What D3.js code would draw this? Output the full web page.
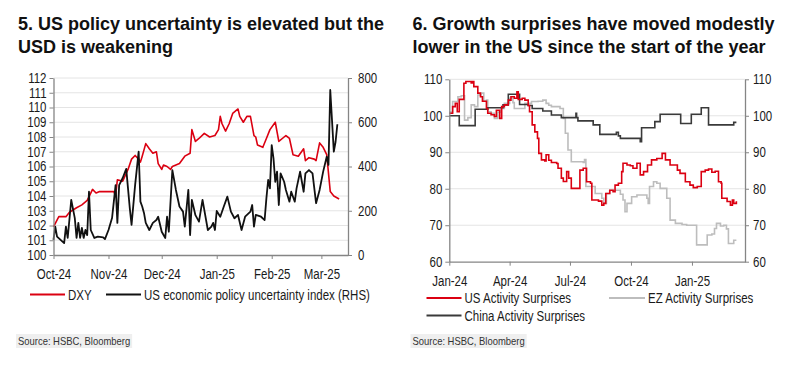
<!DOCTYPE html>
<html>
<head>
<meta charset="utf-8">
<script src="https://cdn.jsdelivr.net/npm/d3@7"></script>
<style>
  body { margin: 0; background: #fff; }
  svg { display: block; }
</style>
</head>
<body>
<svg id="chart" width="800" height="377"></svg>
<script>
// ---- Chart 5: DXY vs US economic policy uncertainty ----
var dxySeries = [
  ["2024-10-01",101.9],["2024-10-04",102.6],["2024-10-08",102.6],["2024-10-10",102.9],
  ["2024-10-14",103.2],["2024-10-17",103.4],["2024-10-20",103.7],["2024-10-22",104.2],
  ["2024-10-23",104.45],["2024-10-25",104.2],["2024-10-27",104.3],["2024-10-31",104.3],
  ["2024-11-04",104.3],["2024-11-05",104.0],["2024-11-06",105.1],["2024-11-09",105.0],
  ["2024-11-12",105.8],["2024-11-14",106.5],["2024-11-16",106.75],["2024-11-18",106.5],
  ["2024-11-19",106.3],["2024-11-20",106.7],["2024-11-22",107.55],["2024-11-24",107.2],
  ["2024-11-26",106.9],["2024-11-28",107.0],["2024-11-29",106.2],["2024-12-01",105.8],
  ["2024-12-02",106.1],["2024-12-04",106.0],["2024-12-06",105.8],["2024-12-07",106.0],
  ["2024-12-11",106.2],["2024-12-14",106.7],["2024-12-17",106.9],["2024-12-18",108.5],
  ["2024-12-20",107.7],["2024-12-22",107.9],["2024-12-25",108.25],["2024-12-28",108.0],
  ["2024-12-31",108.1],["2025-01-02",108.5],["2025-01-03",109.4],["2025-01-04",108.9],
  ["2025-01-06",108.4],["2025-01-08",108.9],["2025-01-10",109.6],["2025-01-13",109.9],
  ["2025-01-14",109.4],["2025-01-16",109.0],["2025-01-18",109.4],["2025-01-20",109.4],
  ["2025-01-22",108.1],["2025-01-23",108.0],["2025-01-24",107.45],["2025-01-27",107.3],
  ["2025-01-29",107.9],["2025-01-31",108.5],["2025-02-03",109.0],["2025-02-05",107.7],
  ["2025-02-08",108.0],["2025-02-09",108.1],["2025-02-11",107.9],["2025-02-13",106.8],
  ["2025-02-16",106.7],["2025-02-19",107.2],["2025-02-20",106.4],["2025-02-22",106.6],
  ["2025-02-25",106.5],["2025-02-26",106.4],["2025-02-28",107.6],["2025-03-02",107.3],
  ["2025-03-04",106.8],["2025-03-06",104.3],["2025-03-08",104.0],["2025-03-11",103.8]
];

var epuSeries = [
  ["2024-10-01",68],["2024-10-02",128],["2024-10-03",83],["2024-10-07",54],["2024-10-08",128],
  ["2024-10-09",77],["2024-10-11",249],["2024-10-13",167],["2024-10-14",77],["2024-10-15",145],
  ["2024-10-16",77],["2024-10-17",122],["2024-10-18",77],["2024-10-19",113],["2024-10-20",90],
  ["2024-10-21",286],["2024-10-22",113],["2024-10-24",77],["2024-10-26",83],["2024-10-29",80],
  ["2024-10-30",72],["2024-11-01",113],["2024-11-03",167],["2024-11-05",316],["2024-11-06",145],
  ["2024-11-07",316],["2024-11-09",348],["2024-11-11",389],["2024-11-13",212],["2024-11-14",136],
  ["2024-11-16",316],["2024-11-18",467],["2024-11-19",241],["2024-11-20",219],["2024-11-21",190],
  ["2024-11-22",145],["2024-11-24",113],["2024-11-26",145],["2024-11-28",158],["2024-11-29",173],
  ["2024-12-01",105],["2024-12-03",77],["2024-12-04",173],["2024-12-05",105],["2024-12-07",384],
  ["2024-12-09",294],["2024-12-11",219],["2024-12-13",196],["2024-12-14",128],["2024-12-16",294],
  ["2024-12-17",90],["2024-12-18",249],["2024-12-20",180],["2024-12-22",151],["2024-12-24",249],
  ["2024-12-27",113],["2024-12-29",128],["2024-12-30",145],["2024-12-31",113],["2025-01-01",199],
  ["2025-01-03",173],["2025-01-05",219],["2025-01-07",264],["2025-01-09",196],["2025-01-11",166],
  ["2025-01-13",181],["2025-01-15",113],["2025-01-17",173],["2025-01-20",196],["2025-01-21",226],
  ["2025-01-22",128],["2025-01-23",181],["2025-01-26",173],["2025-01-28",158],["2025-01-29",256],
  ["2025-01-30",339],["2025-01-31",301],["2025-02-01",497],["2025-02-02",437],["2025-02-03",331],
  ["2025-02-04",377],["2025-02-05",226],["2025-02-06",369],["2025-02-08",331],["2025-02-09",294],
  ["2025-02-11",241],["2025-02-12",286],["2025-02-14",241],["2025-02-15",301],["2025-02-17",377],
  ["2025-02-19",286],["2025-02-20",369],["2025-02-22",384],["2025-02-24",369],["2025-02-26",234],
  ["2025-02-28",294],["2025-03-02",377],["2025-03-04",444],["2025-03-05",407],["2025-03-06",746],
  ["2025-03-08",467],["2025-03-09",512],["2025-03-10",591]
];

var leftMonthTicks = ["2024-10-01","2024-11-01","2024-12-01","2025-01-01","2025-02-01","2025-03-01"];
var dxyTicks = [100,101,102,103,104,105,106,107,108,109,110,111,112];
var epuTicks = [0,200,400,600,800];

// ---- Chart 6: activity surprise indices ----
var usSeries = [
  ["2024-01-01",100.7],["2024-01-06",102.5],["2024-01-10",103.4],["2024-01-13",101.1],
  ["2024-01-16",104.5],["2024-01-23",108.9],["2024-01-26",109.4],["2024-02-03",109.0],
  ["2024-02-05",109.4],["2024-02-07",108.0],["2024-02-13",106.2],["2024-02-17",105.2],
  ["2024-02-20",104.0],["2024-02-26",102.0],["2024-02-28",100.7],["2024-03-04",100.3],
  ["2024-03-09",99.8],["2024-03-12",101.5],["2024-03-17",99.3],["2024-03-20",102.5],
  ["2024-03-24",103.0],["2024-03-30",104.3],["2024-04-03",105.2],["2024-04-08",104.8],
  ["2024-04-12",106.6],["2024-04-14",104.5],["2024-04-20",104.8],["2024-04-24",104.3],
  ["2024-04-29",102.8],["2024-05-01",101.1],["2024-05-05",97.5],["2024-05-09",95.6],
  ["2024-05-13",93.8],["2024-05-15",89.7],["2024-05-19",87.9],["2024-05-24",87.6],
  ["2024-05-26",89.3],["2024-05-30",87.8],["2024-06-03",87.2],["2024-06-11",86.9],
  ["2024-06-13",85.6],["2024-06-18",82.9],["2024-06-21",82.0],["2024-06-26",84.7],
  ["2024-06-29",82.9],["2024-07-03",80.1],["2024-07-13",80.1],["2024-07-16",85.1],
  ["2024-07-21",85.6],["2024-07-26",81.9],["2024-08-01",81.5],["2024-08-03",76.9],
  ["2024-08-13",76.6],["2024-08-18",75.5],["2024-08-21",76.0],["2024-08-24",78.7],
  ["2024-08-30",79.6],["2024-09-04",79.2],["2024-09-07",81.0],["2024-09-12",81.5],
  ["2024-09-17",84.7],["2024-09-19",87.0],["2024-09-25",86.5],["2024-09-30",86.3],
  ["2024-10-04",85.6],["2024-10-10",87.0],["2024-10-15",83.8],["2024-10-20",84.7],
  ["2024-10-26",86.5],["2024-11-01",87.9],["2024-11-09",88.3],["2024-11-17",89.7],
  ["2024-11-22",87.9],["2024-11-29",86.5],["2024-12-07",86.5],["2024-12-10",85.1],
  ["2024-12-14",84.2],["2024-12-22",81.9],["2024-12-29",81.0],["2025-01-03",80.3],
  ["2025-01-09",80.6],["2025-01-15",84.7],["2025-01-21",85.1],["2025-01-26",85.4],
  ["2025-01-31",84.5],["2025-02-05",84.8],["2025-02-10",81.9],["2025-02-14",81.5],
  ["2025-02-15",77.4],["2025-02-23",76.5],["2025-02-28",75.5],["2025-03-03",76.9],
  ["2025-03-05",76.0],["2025-03-09",76.6]
];

var ezSeries = [
  ["2024-01-01",101.0],["2024-01-06",103.9],["2024-01-14",105.2],["2024-01-19",105.5],
  ["2024-01-24",98.8],["2024-01-29",99.5],["2024-02-03",103.0],["2024-02-08",102.5],
  ["2024-02-13",105.7],["2024-02-18",106.2],["2024-02-22",104.0],["2024-02-26",104.3],
  ["2024-02-28",101.1],["2024-03-04",100.7],["2024-03-09",99.3],["2024-03-14",101.0],
  ["2024-03-19",102.0],["2024-03-24",103.4],["2024-04-01",104.8],["2024-04-06",103.6],
  ["2024-04-08",102.0],["2024-04-16",102.0],["2024-04-24",103.4],["2024-05-04",103.9],
  ["2024-05-14",104.0],["2024-05-21",104.3],["2024-05-26",103.4],["2024-05-30",102.9],
  ["2024-06-03",102.5],["2024-06-16",102.0],["2024-06-21",99.3],["2024-06-24",95.2],
  ["2024-06-28",90.6],["2024-07-03",87.4],["2024-07-21",87.2],["2024-07-23",88.0],
  ["2024-07-25",80.6],["2024-07-31",80.6],["2024-08-08",78.7],["2024-08-18",77.4],
  ["2024-08-21",76.0],["2024-08-25",78.7],["2024-08-30",79.6],["2024-09-12",79.6],
  ["2024-09-15",78.5],["2024-09-19",76.9],["2024-09-22",73.7],["2024-09-25",76.0],
  ["2024-10-02",77.8],["2024-10-10",78.3],["2024-10-25",77.4],["2024-10-27",76.0],
  ["2024-10-29",80.6],["2024-11-04",81.9],["2024-11-09",81.5],["2024-11-14",80.1],
  ["2024-11-24",77.4],["2024-11-29",71.4],["2024-12-07",70.5],["2024-12-17",70.2],
  ["2024-12-24",70.0],["2025-01-06",70.0],["2025-01-08",64.6],["2025-01-21",64.6],
  ["2025-01-24",67.3],["2025-01-31",67.6],["2025-02-04",69.1],["2025-02-07",70.5],
  ["2025-02-13",69.8],["2025-02-18",70.0],["2025-02-22",69.0],["2025-02-25",65.0],
  ["2025-03-03",65.0],["2025-03-05",65.9],["2025-03-09",65.9]
];

var chinaSeries = [
  ["2024-01-01",100.0],["2024-01-16",97.3],["2024-02-09",101.8],["2024-02-28",102.2],
  ["2024-03-22",103.0],["2024-03-30",105.9],["2024-04-16",103.1],["2024-04-29",102.8],
  ["2024-05-05",102.0],["2024-05-21",101.3],["2024-06-03",100.2],["2024-06-18",99.5],
  ["2024-07-10",100.7],["2024-07-11",99.5],["2024-07-13",98.6],["2024-08-05",97.5],
  ["2024-08-15",94.9],["2024-09-09",95.5],["2024-09-12",94.5],["2024-09-15",93.8],
  ["2024-10-15",92.9],["2024-10-17",96.7],["2024-11-06",98.4],["2024-11-14",100.4],
  ["2024-12-15",97.9],["2024-12-31",100.4],["2025-01-15",102.2],["2025-01-26",97.5],
  ["2025-03-05",98.2],["2025-03-09",98.2]
];

var rightQuarterTicks = ["2024-01-01","2024-04-01","2024-07-01","2024-10-01","2025-01-01"];
var surpriseTicks = [60,70,80,90,100,110];

// ---- shared setup ----
var RED = "#db0011", BLACK = "#111111", GREY = "#bdbdbd", DARK = "#3a3a3a";
var FONT_BOLD = "'Liberation Sans', Arial, sans-serif";
// no narrow face installed: draw Liberation Sans and squeeze it like Arial Narrow
var FONT_NARROW = "'Liberation Sans', Arial, sans-serif";
var SQUEEZE = 0.82;
var parseDate = d3.timeParse("%Y-%m-%d");
var monthFmt = d3.timeFormat("%b-%y");

function toPoints(arr) {
    return arr.map(function(d) { return { date: parseDate(d[0]), value: d[1] }; });
}

function squeeze(sel) {
    sel.each(function() {
        var w = this.getComputedTextLength();
        d3.select(this)
            .attr("textLength", (w * SQUEEZE).toFixed(2))
            .attr("lengthAdjust", "spacingAndGlyphs");
    });
}

var svg = d3.select("#chart");

function styleAxis(g) {
    g.select(".domain").attr("stroke", "#858585").attr("stroke-width", 1.3);
    g.selectAll(".tick line").attr("stroke", "#858585").attr("stroke-width", 1);
    g.selectAll(".tick text")
        .attr("font-family", FONT_NARROW)
        .attr("font-size", 14)
        .attr("fill", "#1a1a1a")
        .call(squeeze);
}

function gridLines(scale, ticks, x0, x1) {
    svg.append("g").selectAll("line")
        .data(ticks)
        .join("line")
        .attr("x1", x0).attr("x2", x1)
        .attr("y1", function(d) { return scale(d); })
        .attr("y2", function(d) { return scale(d); })
        .attr("stroke", "#e4e4e4")
        .attr("stroke-width", 1);
}

function titleBlock(x, lines) {
    lines.forEach(function(t, i) {
        svg.append("text")
            .attr("x", x).attr("y", 30 + i * 23)
            .attr("font-family", FONT_BOLD)
            .attr("font-weight", "bold")
            .attr("font-size", 18)
            .attr("fill", "#111")
            .text(t);
    });
}

function legendItem(x, y, color, label, swatchW) {
    svg.append("line")
        .attr("x1", x).attr("x2", x + swatchW)
        .attr("y1", y).attr("y2", y)
        .attr("stroke", color).attr("stroke-width", 2);
    svg.append("text")
        .attr("x", x + swatchW + 3).attr("y", y + 5)
        .attr("font-family", FONT_NARROW)
        .attr("font-size", 14)
        .attr("fill", "#1a1a1a")
        .text(label)
        .call(squeeze);
}

function sourceNote(x, y) {
    var g = svg.append("g");
    var rect = g.append("rect").attr("fill", "#efefef");
    var t = g.append("text")
        .attr("x", x).attr("y", y)
        .attr("font-family", FONT_NARROW)
        .attr("font-size", 11.5)
        .attr("fill", "#333")
        .text("Source: HSBC, Bloomberg")
        .call(squeeze);
    var bb = t.node().getBBox();
    rect.attr("x", bb.x - 2).attr("y", bb.y - 1)
        .attr("width", bb.width + 4).attr("height", bb.height + 2);
}

// ---- Left chart ----
var L = { x0: 53.5, x1: 348, y0: 255, y1: 78 };
var xL = d3.scaleTime()
    .domain([parseDate("2024-10-01"), parseDate("2025-03-16")])
    .range([L.x0, L.x1]);
var yDxy = d3.scaleLinear().domain([100, 112]).range([L.y0, L.y1]);
var yEpu = d3.scaleLinear().domain([0, 800]).range([L.y0, L.y1]);

gridLines(yDxy, dxyTicks.slice(1), L.x0, L.x1);

svg.append("path")
    .datum(toPoints(dxySeries))
    .attr("fill", "none").attr("stroke", RED).attr("stroke-width", 1.6)
    .attr("stroke-linejoin", "round")
    .attr("d", d3.line()
        .x(function(d) { return xL(d.date); })
        .y(function(d) { return yDxy(d.value); }));

svg.append("path")
    .datum(toPoints(epuSeries))
    .attr("fill", "none").attr("stroke", BLACK).attr("stroke-width", 1.8)
    .attr("stroke-linejoin", "round")
    .attr("d", d3.line()
        .x(function(d) { return xL(d.date); })
        .y(function(d) { return yEpu(d.value); }));

svg.append("g")
    .attr("transform", "translate(" + L.x0 + ",0)")
    .call(d3.axisLeft(yDxy).tickValues(dxyTicks).tickSize(4).tickSizeOuter(0).tickPadding(3))
    .call(styleAxis);

svg.append("g")
    .attr("transform", "translate(" + L.x1 + ",0)")
    .call(d3.axisRight(yEpu).tickValues(epuTicks).tickSize(4).tickSizeOuter(0).tickPadding(6))
    .call(styleAxis);

svg.append("g")
    .attr("transform", "translate(0," + L.y0 + ")")
    .call(d3.axisBottom(xL).tickValues(leftMonthTicks.map(parseDate))
        .tickFormat(monthFmt).tickSize(4).tickSizeOuter(0).tickPadding(10))
    .call(styleAxis);

// ---- Right chart ----
var R = { x0: 449.3, x1: 745, y0: 261.7, y1: 79.3 };
var xR = d3.scaleTime()
    .domain([parseDate("2024-01-01"), parseDate("2025-03-22")])
    .range([R.x0, R.x1]);
var yS = d3.scaleLinear().domain([60, 110]).range([R.y0, R.y1]);

gridLines(yS, surpriseTicks.slice(1), R.x0, R.x1);

function stepLine(series, color, width) {
    svg.append("path")
        .datum(toPoints(series))
        .attr("fill", "none").attr("stroke", color).attr("stroke-width", width)
        .attr("d", d3.line()
            .curve(d3.curveStepAfter)
            .x(function(d) { return xR(d.date); })
            .y(function(d) { return yS(d.value); }));
}
stepLine(ezSeries, GREY, 1.6);
stepLine(chinaSeries, DARK, 1.6);
stepLine(usSeries, RED, 1.6);

svg.append("g")
    .attr("transform", "translate(" + R.x0 + ",0)")
    .call(d3.axisLeft(yS).tickValues(surpriseTicks).tickSize(4).tickSizeOuter(0).tickPadding(3))
    .call(styleAxis);

svg.append("g")
    .attr("transform", "translate(" + R.x1 + ",0)")
    .call(d3.axisRight(yS).tickValues(surpriseTicks).tickSize(4).tickSizeOuter(0).tickPadding(4))
    .call(styleAxis);

svg.append("g")
    .attr("transform", "translate(0," + R.y0 + ")")
    .call(d3.axisBottom(xR).tickValues(rightQuarterTicks.map(parseDate))
        .tickFormat(monthFmt).tickSize(4).tickSizeOuter(0).tickPadding(10))
    .call(styleAxis);

// ---- Titles, legends, sources ----
titleBlock(18, ["5. US policy uncertainty is elevated but the", "USD is weakening"]);
titleBlock(412.5, ["6. Growth surprises have moved modestly", "lower in the US since the start of the year"]);

legendItem(30, 294.5, RED, "DXY", 35);
legendItem(106, 294.5, BLACK, "US economic policy uncertainty index (RHS)", 35);

legendItem(426.5, 298, RED, "US Activity Surprises", 35);
legendItem(609, 298, GREY, "EZ Activity Surprises", 36);
legendItem(426.5, 315.5, DARK, "China Activity Surprises", 35);

sourceNote(18, 345);
sourceNote(412.5, 345);
</script>
</body>
</html>
